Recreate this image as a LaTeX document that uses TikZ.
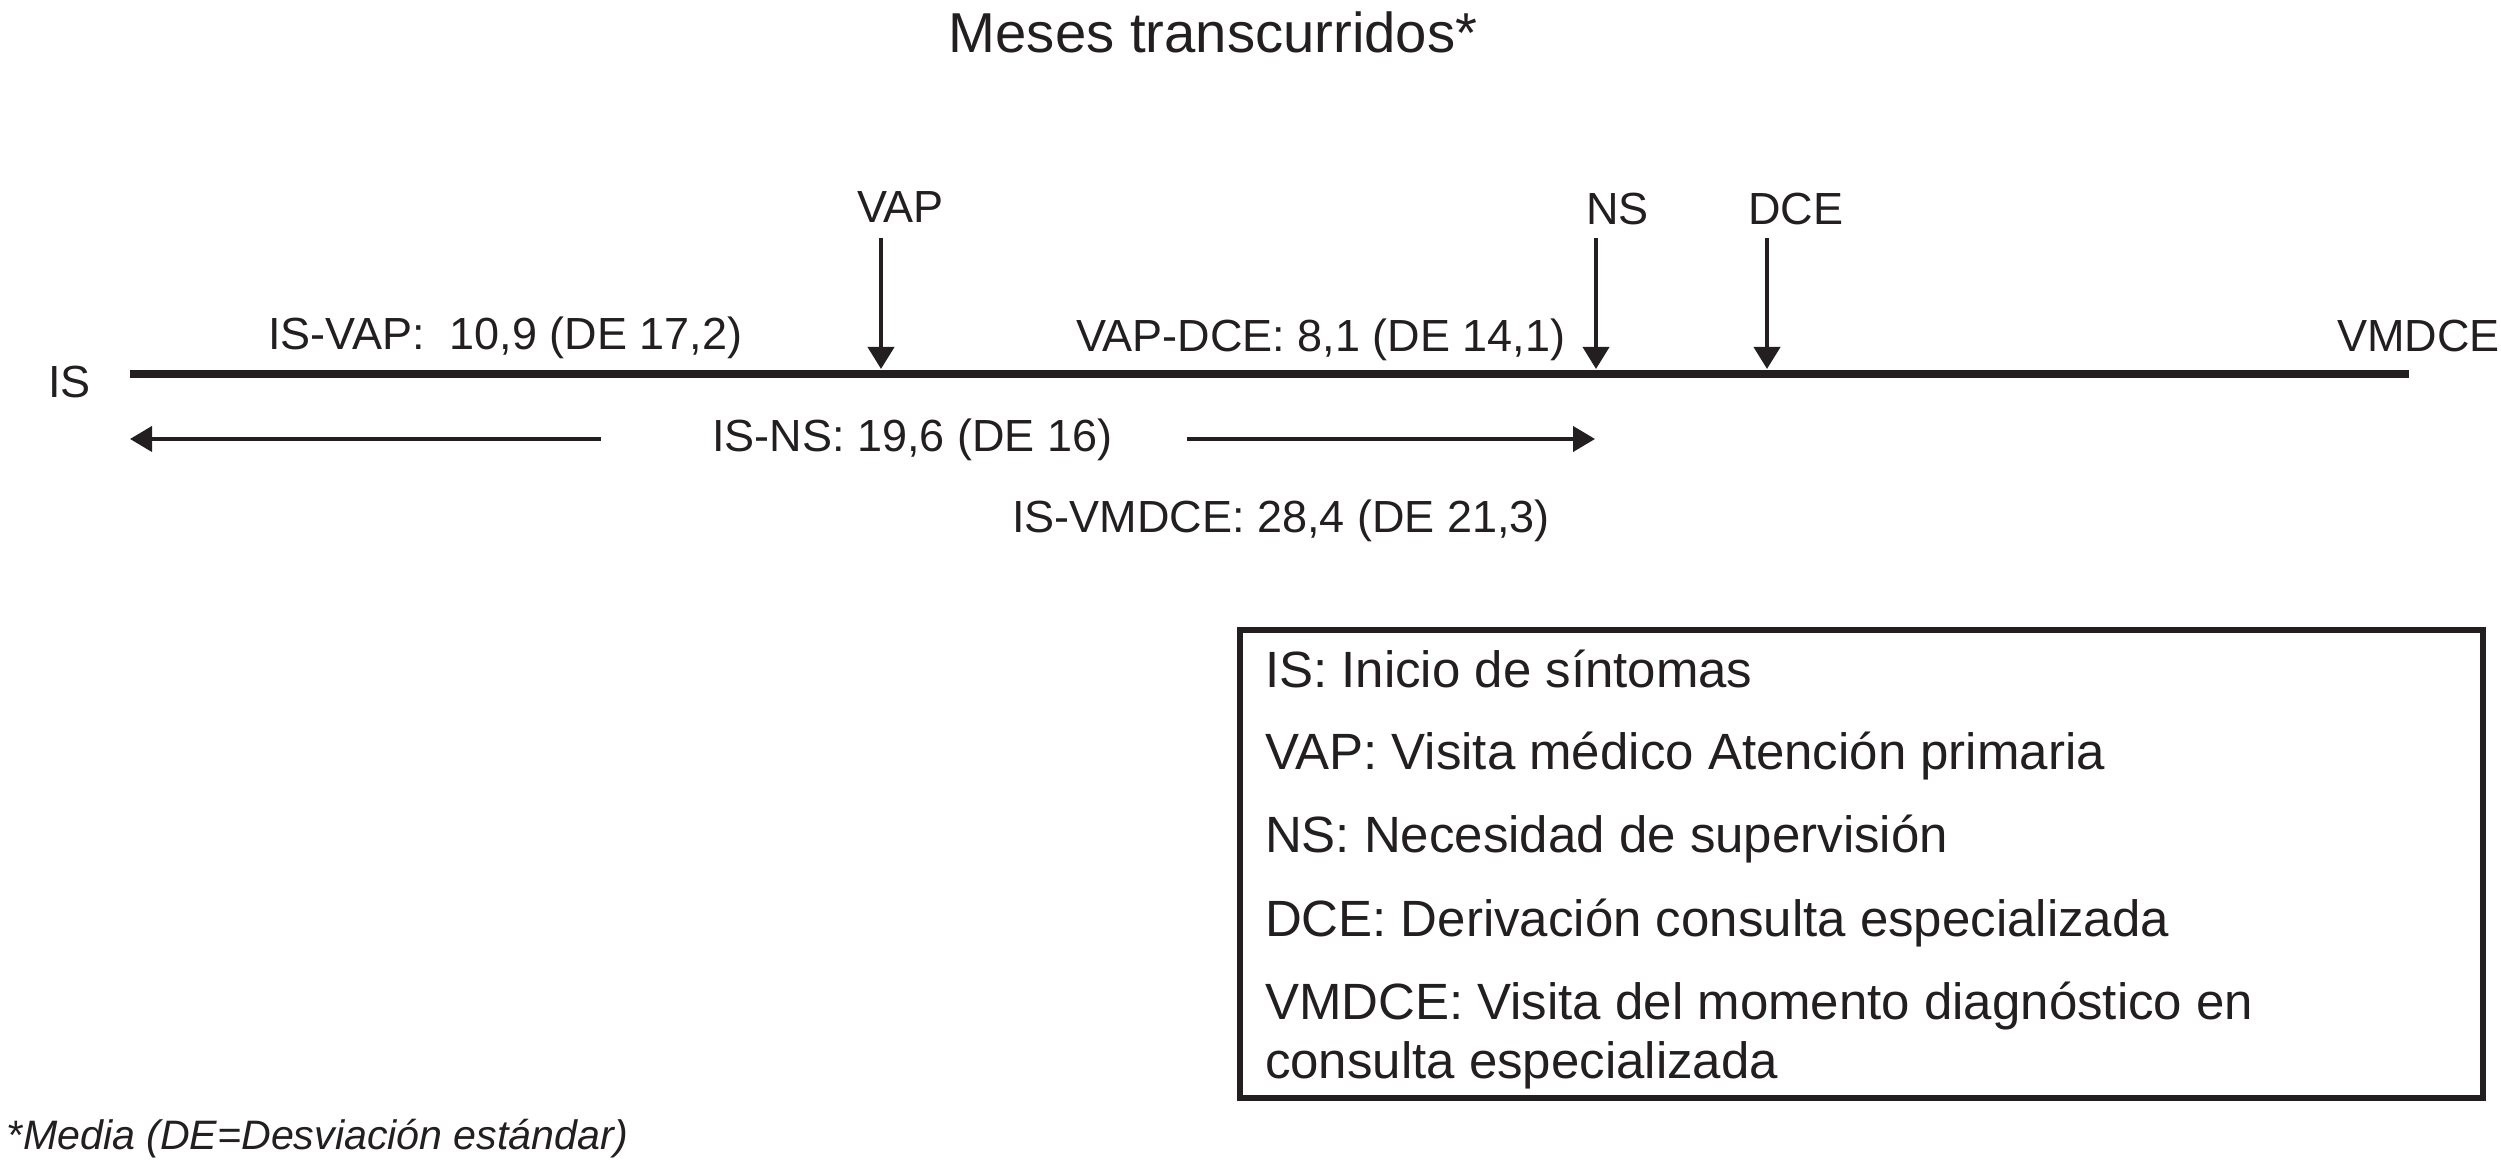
\documentclass[tikz,border=0pt]{standalone}
\usepackage{fontspec}
\setmainfont{Liberation Sans}
\usetikzlibrary{arrows.meta}
\definecolor{ink}{RGB}{35,31,32}
\tikzset{
  lbl/.style={inner sep=0pt, outer sep=0pt, anchor=base west, text=ink, font=\fontsize{12.8pt}{15pt}\selectfont},
  leg/.style={inner sep=0pt, outer sep=0pt, anchor=base west, text=ink, font=\fontsize{14.5pt}{17pt}\selectfont},
  ttl/.style={inner sep=0pt, outer sep=0pt, anchor=base, text=ink, font=\fontsize{16pt}{19pt}\selectfont},
  foot/.style={inner sep=0pt, outer sep=0pt, anchor=base west, text=ink, font=\fontsize{11.7pt}{14pt}\selectfont\itshape},
  timeline/.style={draw=ink, line width=0.08cm},
  downarr/.style={draw=ink, line width=0.04cm, -{Triangle[length=0.22cm, width=0.26cm]}},
  spanarr/.style={draw=ink, line width=0.04cm, -{Triangle[length=0.22cm, width=0.25cm]}},
  legbox/.style={draw=ink, line width=0.06cm, inner sep=0pt, minimum width=12.43cm, minimum height=4.68cm}
}
\begin{document}
\begin{tikzpicture}[x=0.01cm, y=-0.01cm]
\useasboundingbox (0,0) rectangle (2501,1168);
% title
\node[ttl] (title) at (1213,53) {Meses transcurridos*};
% timeline
\coordinate (tl0) at (130,374);
\coordinate (tl1) at (2409,374);
\draw[timeline] (tl0) -- (tl1);
\node[lbl] (lIS) at (48,398) {IS};
\node[lbl] (lVMDCE) at (2337,352) {VMDCE};
% event arrows
\coordinate (vapT) at (881,238);  \coordinate (vapB) at (881,369);
\coordinate (nsT) at (1596,238);  \coordinate (nsB) at (1596,369);
\coordinate (dceT) at (1767,238); \coordinate (dceB) at (1767,369);
\draw[downarr] (vapT) -- (vapB);
\draw[downarr] (nsT) -- (nsB);
\draw[downarr] (dceT) -- (dceB);
\node[lbl] (lVAP) at (857,223) {VAP};
\node[lbl] (lNS) at (1586,225) {NS};
\node[lbl] (lDCE) at (1748,225) {DCE};
% interval labels
\node[lbl] (isvap) at (268,350) {IS-VAP:~ 10,9 (DE 17,2)};
\node[lbl] (vapdce) at (1076,352) {VAP-DCE: 8,1 (DE 14,1)};
\node[lbl] (isns) at (712,452) {IS-NS: 19,6 (DE 16)};
\node[lbl] (isvmdce) at (1012,533) {IS-VMDCE: 28,4 (DE 21,3)};
% IS-NS span arrows
\coordinate (spL) at (130,439);
\coordinate (spA) at (601,439);
\coordinate (spB) at (1187,439);
\coordinate (spR) at (1595,439);
\draw[spanarr] (spA) -- (spL);
\draw[spanarr] (spB) -- (spR);
% legend
\node[legbox] (legend) at (1861.5,864) {};
\node[leg] (leg1) at (1265,688) {IS: Inicio de síntomas};
\node[leg] (leg2) at (1265,770) {VAP: Visita médico Atención primaria};
\node[leg] (leg3) at (1265,853) {NS: Necesidad de supervisión};
\node[leg] (leg4) at (1265,936) {DCE: Derivación consulta especializada};
\node[leg] (leg5) at (1265,1019) {VMDCE: Visita del momento diagnóstico en};
\node[leg] (leg6) at (1265,1078) {consulta especializada};
% footnote
\node[foot] (fn) at (7,1149) {*Media (DE=Desviación estándar)};
\end{tikzpicture}
\end{document}
